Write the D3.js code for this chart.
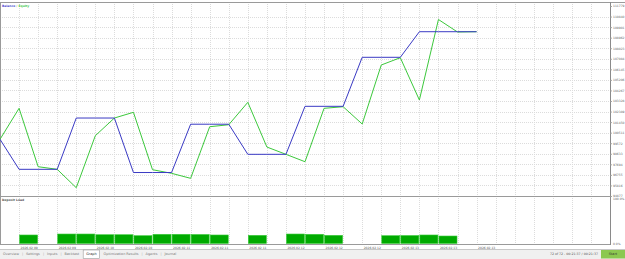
<!DOCTYPE html>
<html>
<head>
<meta charset="utf-8">
<script src="https://cdn.jsdelivr.net/npm/d3@7"></script>
<style>
  body { margin: 0; background: #fff; }
  svg { display: block; font-family: "DejaVu Sans", sans-serif; }
</style>
</head>
<body>
<svg id="tester" width="625" height="259"></svg>
<script>
// balance / equity per deal (index = grid step)
var balance = [99919, 97250, 97250, 97250, 101814, 101814, 101814, 96966, 96966, 96966,
    101263, 101263, 101263, 98585, 98585, 98585, 102855, 102855, 102855, 107215,
    107215, 107215, 109492, 109492, 109492, 109492];
var equity = [99919, 102677, 97482, 97250, 95613, 100240, 101814, 102322, 97215, 96894,
    96449, 101040, 101218, 103211, 99234, 98585, 97926, 102677, 102820, 101281,
    106530, 107179, 103416, 110578, 109466, 109492];
// deposit load % for each step interval (0 = no bar)
var depositLoad = [0, 18.3, 0, 20.4, 20.4, 18.9, 18.9, 16.8, 19.8, 19.8,
    19.4, 18.3, 0, 17.6, 0, 20.4, 19.8, 17.6, 0, 0,
    16.8, 17.2, 18.3, 16.1];
var yTicks = [111779, 110840, 109901, 108962, 108023, 107084, 106145, 105206, 104267, 103328,
    102389, 101450, 100511, 99572, 98633, 97694, 96755, 95816, 94877];
var dateTicks = [1, 3, 5, 7, 9, 11, 13, 15, 17, 19, 21, 23, 25];
var dateLabels = ["2026.02.09", "2026.02.09", "2026.02.10", "2026.02.10", "2026.02.11", "2026.02.11",
    "2026.02.11", "2026.02.12", "2026.02.12", "2026.02.12", "2026.02.13", "2026.02.13", "2026.02.13"];
var tabs = ["Overview", "Settings", "Inputs", "Backtest", "Graph", "Optimization Results", "Agents", "Journal"];

var svg = d3.select("#tester"),
    W = 610, plotTop = 2, mainBottom = 196, loadTop = 197, loadBottom = 243.5;

var x = d3.scaleLinear().domain([0, 32]).range([0, W]);
var y = d3.scaleLinear().domain([94877, 111779]).range([mainBottom, 6]);
var yLoad = d3.scaleLinear().domain([0, 100]).range([loadBottom, loadTop]);

// grid
var grid = svg.append("g").attr("stroke", "#dcdcdc").attr("stroke-dasharray", "1,1");
grid.selectAll("line.v").data(d3.range(1, 32)).enter().append("line")
    .attr("x1", d => Math.round(x(d)) + 0.5).attr("x2", d => Math.round(x(d)) + 0.5)
    .attr("y1", plotTop).attr("y2", loadBottom);
grid.selectAll("line.h").data(yTicks.slice(1, -1)).enter().append("line")
    .attr("x1", 0).attr("x2", W)
    .attr("y1", d => Math.round(y(d)) + 0.5).attr("y2", d => Math.round(y(d)) + 0.5);

// frames
var frame = svg.append("g").attr("stroke", "#9a9a9a").attr("fill", "none");
frame.append("line").attr("x1", 0).attr("x2", 625).attr("y1", plotTop + 0.5).attr("y2", plotTop + 0.5);
frame.append("line").attr("x1", 0).attr("x2", W).attr("y1", mainBottom + 0.5).attr("y2", mainBottom + 0.5);
frame.append("line").attr("x1", 0).attr("x2", W).attr("y1", 244.5).attr("y2", 244.5);
frame.append("line").attr("x1", 0.5).attr("x2", 0.5).attr("y1", plotTop).attr("y2", 244.5);

// deposit load bars
svg.append("g").selectAll("rect")
    .data(depositLoad.map((v, i) => ({i: i, v: v})).filter(d => d.v > 0))
    .enter().append("rect")
    .attr("x", d => x(d.i) + 0.5)
    .attr("width", d => x(d.i + 1) - x(d.i) - 1)
    .attr("y", d => yLoad(d.v))
    .attr("height", d => loadBottom - yLoad(d.v))
    .attr("fill", "#00aa00")
    .attr("stroke", "#3ccc3c")
    .attr("stroke-width", 0.6);

// lines
var line = d3.line().x((d, i) => x(i)).y(d => y(d));
svg.append("path").datum(equity).attr("d", line)
    .attr("fill", "none").attr("stroke", "#3cc83c").attr("stroke-width", 1);
svg.append("path").datum(balance).attr("d", line)
    .attr("fill", "none").attr("stroke", "#3a3ac4").attr("stroke-width", 1);

// right axis
var ax = svg.append("g")
    .attr("transform", "translate(" + (W + 0.5) + ",0)")
    .call(d3.axisRight(y).tickValues(yTicks).tickSize(1.5).tickPadding(1).tickFormat(d3.format("d")));
ax.select(".domain").attr("d", "M0," + plotTop + "V245").attr("stroke", "#8a8a8a");
ax.selectAll("text").attr("font-size", 3).attr("fill", "#666").attr("font-family", "DejaVu Sans");
ax.selectAll("line").attr("stroke", "#aaa");

svg.append("text").attr("x", W + 3).attr("y", 200).attr("font-size", 3).attr("fill", "#666").text("100.0%");
svg.append("text").attr("x", W + 3).attr("y", 245).attr("font-size", 3).attr("fill", "#666").text("0.0%");

// bottom dates
var bx = svg.append("g")
    .attr("transform", "translate(0,244.5)")
    .call(d3.axisBottom(x).tickValues(dateTicks).tickSize(0).tickPadding(2.5)
        .tickFormat((d, i) => dateLabels[i]));
bx.select(".domain").remove();
bx.selectAll("text").attr("font-size", 3).attr("fill", "#555").attr("text-anchor", "start")
    .attr("font-family", "DejaVu Sans").attr("dx", 1);

// legends
var leg = svg.append("text").attr("x", 2).attr("y", 6.5).attr("font-size", 3).attr("font-weight", "bold");
leg.append("tspan").attr("fill", "#4a4ad0").text("Balance");
leg.append("tspan").attr("fill", "#999").text(" / ");
leg.append("tspan").attr("fill", "#4cc84c").text("Equity");
svg.append("text").attr("x", 2).attr("y", 200.5).attr("font-size", 3).attr("font-weight", "bold")
    .attr("fill", "#555").text("Deposit Load");

// tab bar
var tabBar = svg.append("g");
tabBar.append("rect").attr("x", 0).attr("y", 249).attr("width", 625).attr("height", 10).attr("fill", "#f0f0f0");
tabBar.append("line").attr("x1", 0).attr("x2", 625).attr("y1", 249.5).attr("y2", 249.5).attr("stroke", "#c8c8c8");
var tx = 3;
tabs.forEach(function (name, i) {
    var t = tabBar.append("text").attr("x", tx).attr("y", 254.8).attr("font-size", 3.4)
        .attr("fill", name == "Graph" ? "#222" : "#777").text(name);
    var w = t.node().getComputedTextLength();
    if (name == "Graph") {
        tabBar.insert("rect", function () { return t.node(); })
            .attr("x", tx - 3).attr("y", 250).attr("width", w + 6).attr("height", 8.5)
            .attr("fill", "#fff").attr("stroke", "#9a9a9a").attr("stroke-width", 0.6);
    } else if (i < tabs.length - 1 && tabs[i + 1] != "Graph") {
        tabBar.append("text").attr("x", tx + w + 3).attr("y", 254.8).attr("font-size", 3.4).attr("fill", "#aaa").text("|");
    }
    tx += w + 7;
});
tabBar.append("text").attr("x", 598).attr("y", 255).attr("font-size", 3.2).attr("fill", "#555")
    .attr("text-anchor", "end").text("72 of 72 - 00:21:37 / 00:21:37");
tabBar.append("rect").attr("x", 601).attr("y", 250).attr("width", 24).attr("height", 8.5).attr("fill", "#8cc850");
tabBar.append("text").attr("x", 613).attr("y", 255.3).attr("font-size", 3.4).attr("fill", "#333")
    .attr("text-anchor", "middle").text("Start");
</script>
</body>
</html>
